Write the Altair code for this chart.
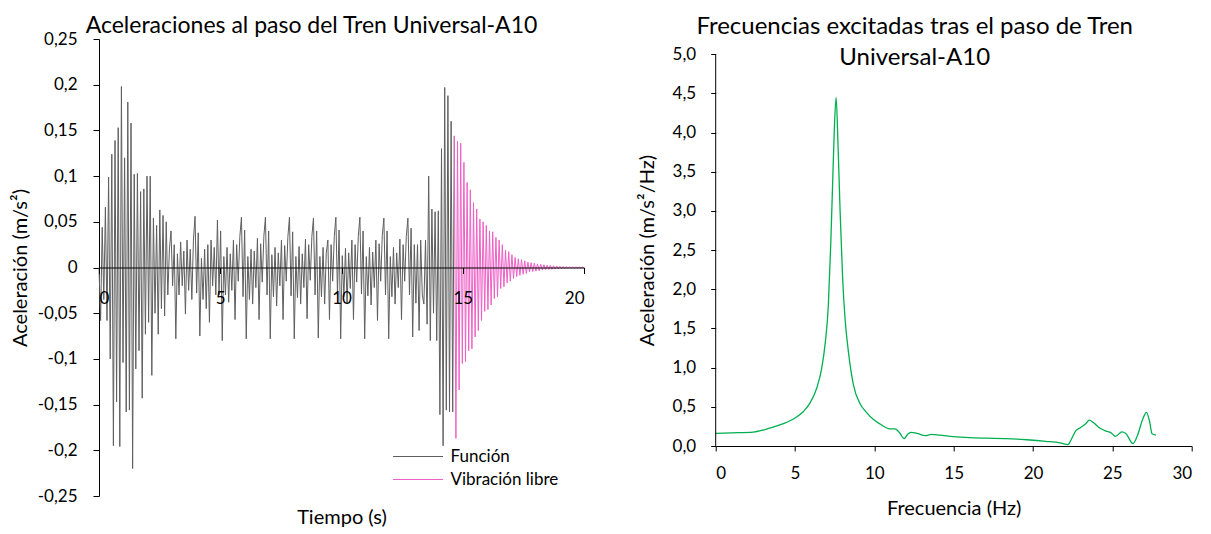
import altair as alt
import pandas as pd

FONT = "Lato"
GRAY = "#5f5f5f"
PINK = "#ef5fc6"
GREEN = "#00b050"

# ---------------- data ----------------
DT = 0.066  # sample step of the time signal (s)

funcion = [
    # 0 - 3 s : entrada del tren
    0.0, -0.058, 0.044, -0.035, 0.066, -0.058, 0.099, -0.100, 0.124, -0.195,
    0.139, -0.147, 0.153, -0.196, 0.198, -0.104, 0.120, -0.158, 0.181, -0.156,
    0.158, -0.220, 0.102, -0.111, 0.103, -0.091, 0.083, -0.143, 0.086, -0.073,
    0.100, -0.060, 0.100, -0.118, 0.054, -0.050, 0.046, -0.073, 0.063, -0.045,
    0.057, -0.053, 0.050, -0.030, 0.020,
    # 3 - 13.4 s : paso de ejes
    0.040, -0.020, 0.025, -0.078, 0.015, -0.030, 0.028, -0.020, 0.018, -0.051, 0.030, -0.025, 0.020, -0.035, 0.030,
    0.056, -0.028, 0.038, -0.075, 0.010, -0.035, 0.020, -0.045, 0.025, -0.060, 0.030, -0.020, 0.022, -0.030,
    0.052, -0.030, 0.040, -0.080, 0.012, -0.030, 0.022, -0.038, 0.015, -0.025, 0.030, -0.057, 0.025, -0.015, 0.034,
    0.055, -0.032, 0.041, -0.078, 0.012, -0.035, 0.020, -0.040, 0.018, -0.022, 0.032, -0.057, 0.026, -0.016, 0.034,
    0.055, -0.030, 0.040, -0.078, 0.014, -0.032, 0.022, -0.042, 0.016, -0.020, 0.030, -0.057, 0.024, -0.015, 0.033,
    0.055, -0.031, 0.039, -0.078, 0.012, -0.033, 0.023, -0.040, 0.015, -0.022, 0.031, -0.056, 0.025, -0.014, 0.034,
    0.054, -0.030, 0.040, -0.077, 0.012, -0.032, 0.022, -0.040, 0.016, 0.030, -0.057, 0.025, -0.015, 0.034,
    0.055, -0.030, 0.041, -0.078, 0.013, -0.032, 0.021, -0.040, 0.016, -0.023, 0.030, -0.057, 0.025, -0.016, 0.034,
    0.055, -0.029, 0.040, -0.078, 0.012, -0.031, 0.022, -0.041, 0.017, -0.022, 0.030, -0.058, 0.026, -0.015, 0.035,
    0.054, -0.030, 0.040, -0.078, 0.012, -0.032, 0.022, -0.040, 0.016, -0.022, 0.031, -0.057, 0.025, -0.015, 0.034,
    0.054, -0.030, 0.043, -0.076, 0.025, -0.039, 0.025, -0.069, 0.030, -0.030,
    # 13.4 - 14.65 s : salida del tren
    -0.040, 0.030, -0.062, 0.100, -0.080, 0.064, -0.050, 0.061, -0.080, 0.062,
    -0.161, 0.130, -0.195, 0.197, -0.156, 0.188, -0.158, 0.160, -0.158, 0.144,
]

vibracion_libre = [
    0.144, -0.187, 0.138, -0.134, 0.136, -0.105, 0.115, -0.103, 0.093, -0.091,
    0.085, -0.089, 0.071, -0.076, 0.064, -0.069, 0.053, -0.058, 0.050, -0.048,
    0.046, -0.046, 0.040, -0.041, 0.039, -0.034, 0.033, -0.032, 0.030, -0.023,
    0.025, -0.021, 0.019, -0.017, 0.0175, -0.015, 0.014, -0.012, 0.011, -0.010,
    0.0095, -0.0085, 0.0085, -0.0073, 0.0073, -0.0065, 0.006, -0.005, 0.0052, -0.0045,
    0.0047, -0.004, 0.004, -0.0035, 0.0035, -0.0028, 0.003, -0.0026, 0.0027, -0.0022,
    0.0023, -0.002, 0.002, -0.0017, 0.0017, -0.0015, 0.0014, -0.0013, 0.0012, -0.0011,
    0.0011, -0.001, 0.0009, -0.0008, 0.0008, -0.0007, 0.0007, -0.0006, 0.0006, -0.0005,
    0.0005, -0.0004,
]

frecuencia = [0, 1.0, 2.37, 3.43, 4.27, 5.0, 5.53, 5.95, 6.37, 6.68, 6.89, 7.1, 7.25,
              7.38, 7.48, 7.59, 7.71, 7.84, 8.0, 8.15, 8.36, 8.68, 9.1, 9.5, 9.93,
              10.36, 10.98, 11.3, 11.6, 11.87, 12.1, 12.3, 12.75, 13.2, 13.6, 14.1,
              14.97, 16.0, 17.05, 18.3, 19.6, 20.8, 21.7, 22.2, 22.4, 22.7, 23.0,
              23.3, 23.55, 23.8, 24.2, 24.6, 24.9, 25.2, 25.6, 25.85, 26.3, 26.6,
              26.9, 27.15, 27.35, 27.5, 27.75]
espectro = [0.162, 0.168, 0.178, 0.23, 0.285, 0.357, 0.44, 0.55, 0.74, 0.99, 1.29,
            1.80, 2.57, 3.42, 4.06, 4.45, 3.84, 3.0, 2.14, 1.63, 1.21, 0.78, 0.54,
            0.43, 0.34, 0.28, 0.218, 0.218, 0.166, 0.093, 0.15, 0.175, 0.157, 0.132,
            0.148, 0.14, 0.12, 0.106, 0.10, 0.095, 0.08, 0.06, 0.04, 0.017, 0.08,
            0.195, 0.237, 0.28, 0.33, 0.30, 0.23, 0.19, 0.17, 0.123, 0.18, 0.16,
            0.03, 0.145, 0.335, 0.43, 0.31, 0.157, 0.14]

series = ["Función", "Vibración libre"]
y_ticks_left = [0.25, 0.2, 0.15, 0.1, 0.05, 0, -0.05, -0.1, -0.15, -0.2, -0.25]
x_ticks_left = [0, 5, 10, 15, 20]
y_ticks_right = [0, 0.5, 1.0, 1.5, 2.0, 2.5, 3.0, 3.5, 4.0, 4.5, 5.0]
x_ticks_right = [0, 5, 10, 15, 20, 25, 30]

rows = []
for i, v in enumerate(funcion):
    rows.append({"t": round(i * DT, 4), "a": v, "serie": series[0]})
t_start = (len(funcion) - 1) * DT
for k, v in enumerate(vibracion_libre):
    rows.append({"t": round(t_start + k * DT, 4), "a": v, "serie": series[1]})
sig = pd.DataFrame(rows)

spec = pd.DataFrame({"f": frecuencia, "v": espectro})

# ---------------- layout ----------------
LW, LH = 485, 457
RW, RH = 476, 407
RMAX = 5.194

left = alt.Chart(sig).mark_line(strokeWidth=1).encode(
    x=alt.X("t:Q", scale=alt.Scale(domain=[0, 20], nice=False, zero=False),
            axis=alt.Axis(values=x_ticks_left, offset=-LH / 2, title="Tiempo (s)",
                          titleY=250, titleBaseline="middle", tickSize=6,
                          labelPadding=17, zindex=1)),
    y=alt.Y("a:Q", scale=alt.Scale(domain=[-0.25, 0.25], nice=False),
            axis=alt.Axis(values=y_ticks_left, title="Aceleración (m/s²)",
                          labelExpr="replace(replace(format(datum.value, '~g'), '.', ','), '\u2212', '-')",
                          titleX=-79, titleBaseline="middle", tickSize=6, labelPadding=16)),
    color=alt.Color("serie:N", scale=alt.Scale(domain=series, range=[GRAY, PINK]),
                    legend=alt.Legend(orient="none", legendX=305.5, legendY=404, title=None,
                                      symbolType="M-2,0H2", symbolSize=625,
                                      symbolStrokeWidth=1.2, labelFontSize=17,
                                      labelFont=FONT, labelColor="black",
                                      labelOffset=19, padding=0, rowPadding=1)),
).properties(
    width=LW, height=LH,
    title=alt.TitleParams("Aceleraciones al paso del Tren Universal-A10", anchor="middle",
                          frame="group", dx=-30, offset=-18.9, baseline="middle",
                          fontSize=23),
)

right_line = alt.Chart(spec).mark_line(color=GREEN, strokeWidth=1.3, interpolate="monotone").encode(
    x=alt.X("f:Q", scale=alt.Scale(domain=[0, 30], nice=False),
            axis=alt.Axis(values=x_ticks_right, title="Frecuencia (Hz)", titleY=62,
                          titleBaseline="middle", tickSize=5, labelPadding=14)),
    y=alt.Y("v:Q", scale=alt.Scale(domain=[0, RMAX], nice=False),
            axis=alt.Axis(values=y_ticks_right, title="Aceleración (m/s²/Hz)",
                          labelExpr="replace(format(datum.value, '.1f'), '.', ',')",
                          domain=False, titleX=-68, titleY=211, titleBaseline="middle",
                          tickSize=5, labelPadding=15)),
)
axis_df = pd.DataFrame({"f": [0], "v0": [0], "v1": [5]})
right_axis = alt.Chart(axis_df).mark_rule(color="black", strokeWidth=1).encode(
    x="f:Q", y="v0:Q", y2="v1:Q")

right = alt.layer(right_line, right_axis).properties(
    width=RW, height=RH,
    title=alt.TitleParams(["Frecuencias excitadas tras el paso de Tren", "Universal-A10"],
                          anchor="middle", frame="group", dx=-39, offset=-43.4,
                          baseline="middle", lineHeight=31),
)

chart = alt.hconcat(left, right, spacing=131.7, bounds="flush").properties(
    padding={"left": 2, "top": 6, "right": 5, "bottom": 0}
).configure_view(stroke=None).configure_axis(
    labelFont=FONT, titleFont=FONT, labelFontSize=17, titleFontSize=20,
    labelColor="black", titleColor="black", domainColor="black", tickColor="black",
    grid=False, titleFontWeight="normal",
).configure_title(font=FONT, fontSize=24, fontWeight="normal", color="black")

chart.save("out.html", embed_options={"renderer": "svg", "actions": False})
